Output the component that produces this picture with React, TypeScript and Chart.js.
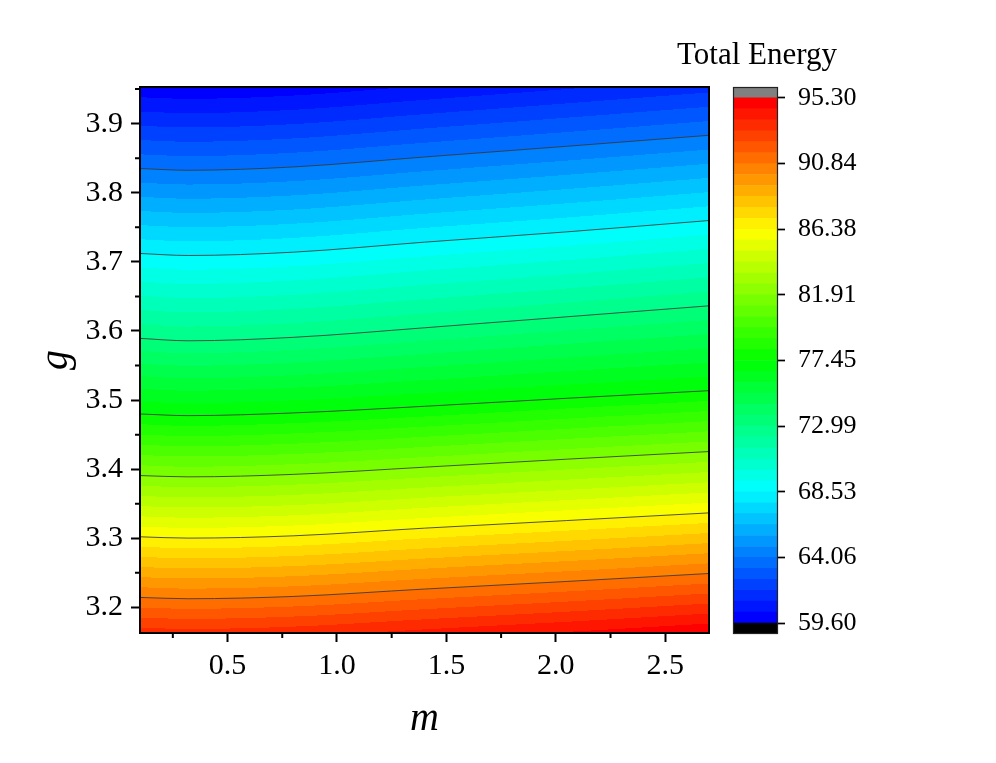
import React, { useEffect, useRef } from 'react';
import { Chart, registerables } from 'chart.js';

Chart.register(...registerables);

// ---- data ----
const mColumns = [0.1, 0.32, 0.8, 1.4, 2.05, 2.7];
const contourLevels = [64.06, 68.53, 72.99, 77.45, 81.91, 86.38, 90.84];
const gLevel6406 = [3.835, 3.8325, 3.8373, 3.8517, 3.8672, 3.8831];
const gLevel6853 = [3.7121, 3.7092, 3.714, 3.7285, 3.7434, 3.7598];
const gLevel7299 = [3.5893, 3.5858, 3.5908, 3.6046, 3.6205, 3.6364];
const gLevel7745 = [3.4799, 3.4775, 3.4814, 3.491, 3.5026, 3.5136];
const gLevel8191 = [3.3908, 3.3889, 3.3925, 3.4029, 3.4145, 3.4255];
const gLevel8638 = [3.3022, 3.3003, 3.3036, 3.3147, 3.3257, 3.3368];
const gLevel9084 = [3.2145, 3.2126, 3.2159, 3.2266, 3.2376, 3.2491];
const energyAtTopEdge = [59.81, 59.73, 59.9, 60.42, 60.98, 61.55];
const energyAtBottomEdge = [93.46, 93.37, 93.54, 94.08, 94.64, 95.26];

const mMin = 0.1;
const mMax = 2.7;
const gMin = 3.163;
const gMax = 3.953;
const mTicks = [0.5, 1.0, 1.5, 2.0, 2.5];
const mMinorTicks = [0.25, 0.75, 1.25, 1.75, 2.25];
const gTicks = [3.2, 3.3, 3.4, 3.5, 3.6, 3.7, 3.8, 3.9];
const gMinorTicks = [3.25, 3.35, 3.45, 3.55, 3.65, 3.75, 3.85, 3.95];
const colorbarTicks = [59.6, 64.06, 68.53, 72.99, 77.45, 81.91, 86.38, 90.84, 95.3];
const levelMin = 59.6;
const levelMax = 95.3;
const levelCount = 48;
const colorbarTitle = 'Total Energy';
const xTitle = 'm';
const yTitle = 'g';

const levelLines = [gLevel6406, gLevel6853, gLevel7299, gLevel7745, gLevel8191, gLevel8638, gLevel9084];

const FONT = "'Liberation Serif', 'Times New Roman', serif";
const step = (levelMax - levelMin) / levelCount;

const rainbowStops = [
  [0, 0, 255],
  [0, 255, 255],
  [0, 255, 0],
  [255, 255, 0],
  [255, 0, 0],
];
function rainbow(t: number): number[] {
  const tt = Math.max(0, Math.min(1, t));
  const s = tt * 4;
  const i = Math.min(3, Math.floor(s));
  const f = s - i;
  const a = rainbowStops[i];
  const b = rainbowStops[i + 1];
  return [0, 1, 2].map((c) => Math.round(a[c] + (b[c] - a[c]) * f));
}
const palette = Array.from({ length: levelCount }, (_, k) => rainbow(k / (levelCount - 1)));
const rgb = (c: number[]) => `rgb(${c[0]},${c[1]},${c[2]})`;

// monotone cubic (same scheme Chart.js uses for cubicInterpolationMode 'monotone')
function monotone(xs: number[], ys: number[]) {
  const n = xs.length;
  const d: number[] = [];
  const mk: number[] = new Array(n).fill(0);
  for (let i = 0; i < n - 1; i++) d[i] = (ys[i + 1] - ys[i]) / (xs[i + 1] - xs[i]);
  mk[0] = d[0];
  mk[n - 1] = d[n - 2];
  for (let i = 1; i < n - 1; i++) {
    mk[i] = Math.sign(d[i - 1]) !== Math.sign(d[i]) || d[i - 1] === 0 || d[i] === 0 ? 0 : (d[i - 1] + d[i]) / 2;
  }
  for (let i = 0; i < n - 1; i++) {
    if (d[i] === 0) {
      mk[i] = 0;
      mk[i + 1] = 0;
      continue;
    }
    const a = mk[i] / d[i];
    const b = mk[i + 1] / d[i];
    const s = a * a + b * b;
    if (s > 9) {
      const t = 3 / Math.sqrt(s);
      mk[i] = t * a * d[i];
      mk[i + 1] = t * b * d[i];
    }
  }
  return (x: number) => {
    let i = 0;
    while (i < n - 2 && x > xs[i + 1]) i++;
    const h = xs[i + 1] - xs[i];
    const t = (x - xs[i]) / h;
    const t2 = t * t;
    const t3 = t2 * t;
    return (
      (2 * t3 - 3 * t2 + 1) * ys[i] +
      (t3 - 2 * t2 + t) * h * mk[i] +
      (-2 * t3 + 3 * t2) * ys[i + 1] +
      (t3 - t2) * h * mk[i + 1]
    );
  };
}

const contourFillPlugin = {
  id: 'contourFill',
  beforeDatasetsDraw(chart: any) {
    const { ctx, chartArea: a, scales } = chart;
    const xs = scales.x;
    const ys = scales.y;
    const left = Math.round(a.left);
    const top = Math.round(a.top);
    const w = Math.round(a.right) - left;
    const h = Math.round(a.bottom) - top;
    const off = document.createElement('canvas');
    off.width = w;
    off.height = h;
    const octx = off.getContext('2d') as CanvasRenderingContext2D;
    const img = octx.createImageData(w, h);
    const lineFns = levelLines.map((s) => monotone(mColumns, s));
    const topFn = monotone(mColumns, energyAtTopEdge);
    const botFn = monotone(mColumns, energyAtBottomEdge);
    for (let px = 0; px < w; px++) {
      const m = xs.getValueForPixel(left + px + 0.5);
      const kg = [gMax, ...lineFns.map((f) => f(m)), gMin];
      const ke = [topFn(m), ...contourLevels, botFn(m)];
      for (let py = 0; py < h; py++) {
        const g = ys.getValueForPixel(top + py + 0.5);
        let j = 0;
        while (j < kg.length - 2 && g < kg[j + 1]) j++;
        const t = (kg[j] - g) / (kg[j] - kg[j + 1]);
        const e = ke[j] + t * (ke[j + 1] - ke[j]);
        let k = Math.floor((e - levelMin) / step);
        if (k < 0) k = 0;
        if (k > levelCount - 1) k = levelCount - 1;
        const c = palette[k];
        const idx = (py * w + px) * 4;
        img.data[idx] = c[0];
        img.data[idx + 1] = c[1];
        img.data[idx + 2] = c[2];
        img.data[idx + 3] = 255;
      }
    }
    octx.putImageData(img, 0, 0);
    ctx.drawImage(off, left, top);
  },
  afterDatasetsDraw(chart: any) {
    const { ctx, chartArea: a, scales } = chart;
    ctx.save();
    ctx.strokeStyle = '#000';
    ctx.lineWidth = 2;
    ctx.strokeRect(a.left, a.top, a.right - a.left, a.bottom - a.top);
    // minor ticks
    ctx.beginPath();
    gMinorTicks.forEach((v) => {
      const yp = scales.y.getPixelForValue(v);
      if (yp >= a.top - 0.5 && yp <= a.bottom + 0.5) {
        ctx.moveTo(a.left - 5, yp);
        ctx.lineTo(a.left, yp);
      }
    });
    mMinorTicks.forEach((v) => {
      const xp = scales.x.getPixelForValue(v);
      if (xp >= a.left - 0.5 && xp <= a.right + 0.5) {
        ctx.moveTo(xp, a.bottom);
        ctx.lineTo(xp, a.bottom + 5);
      }
    });
    ctx.stroke();
    ctx.restore();
  },
};

const colorbarFramePlugin = {
  id: 'colorbarFrame',
  afterDatasetsDraw(chart: any) {
    const { ctx, chartArea: a } = chart;
    ctx.save();
    ctx.strokeStyle = '#222';
    ctx.lineWidth = 1.2;
    ctx.strokeRect(a.left + 0.5, a.top + 0.5, a.right - a.left - 1, a.bottom - a.top - 1);
    ctx.restore();
  },
};

export default function App() {
  const mainRef = useRef<HTMLCanvasElement>(null);
  const barRef = useRef<HTMLCanvasElement>(null);

  useEffect(() => {
    const lineDatasets = levelLines.map((series, i) => ({
      label: String(contourLevels[i]),
      data: mColumns.map((m, j) => ({ x: m, y: series[j] })),
      showLine: true,
      borderColor: 'rgba(55,55,55,0.85)',
      borderWidth: 1,
      pointRadius: 0,
      cubicInterpolationMode: 'monotone' as const,
      fill: false,
    }));

    const main = new Chart(mainRef.current as HTMLCanvasElement, {
      type: 'scatter',
      data: { datasets: lineDatasets },
      options: {
        animation: false,
        responsive: false,
        devicePixelRatio: 1,
        layout: { padding: { left: 0, top: 87, right: 11, bottom: 0 } },
        plugins: { legend: { display: false }, tooltip: { enabled: false } },
        scales: {
          x: {
            type: 'linear',
            position: 'bottom',
            min: mMin,
            max: mMax,
            afterBuildTicks: (s: any) => {
              s.ticks = mTicks.map((v) => ({ value: v }));
            },
            afterFit: (s: any) => {
              s.height = 130;
            },
            ticks: {
              callback: (v: any) => Number(v).toFixed(1),
              font: { family: FONT, size: 30 },
              color: '#000',
              padding: 6,
              maxRotation: 0,
            },
            grid: { drawOnChartArea: false, drawTicks: true, tickLength: 9, tickWidth: 2, tickColor: '#000' },
            border: { display: false },
            title: {
              display: true,
              text: xTitle,
              font: { family: FONT, size: 40, style: 'italic' },
              color: '#000',
              padding: { top: 0, bottom: 20 },
            },
          },
          y: {
            type: 'linear',
            position: 'left',
            min: gMin,
            max: gMax,
            afterBuildTicks: (s: any) => {
              s.ticks = gTicks.map((v) => ({ value: v }));
            },
            afterFit: (s: any) => {
              s.width = 140;
            },
            ticks: {
              callback: (v: any) => Number(v).toFixed(1),
              font: { family: FONT, size: 30 },
              color: '#000',
              padding: 8,
            },
            grid: { drawOnChartArea: false, drawTicks: true, tickLength: 9, tickWidth: 2, tickColor: '#000' },
            border: { display: false },
            title: {
              display: true,
              text: yTitle,
              font: { family: FONT, size: 40, style: 'italic' },
              color: '#000',
              padding: { top: 32, bottom: 0 },
            },
          },
        },
      },
      plugins: [contourFillPlugin],
    } as any);

    const lowOver = levelMin - step;
    const highOver = levelMax + step;
    const bandDatasets: any[] = [
      { data: [[lowOver, levelMin]], backgroundColor: '#000000' },
      ...palette.map((c, k) => ({
        data: [[levelMin + k * step, levelMin + (k + 1) * step]],
        backgroundColor: rgb(c),
      })),
      { data: [[levelMax, highOver]], backgroundColor: '#808080' },
    ].map((d) => ({
      ...d,
      borderWidth: 0,
      barPercentage: 1,
      categoryPercentage: 1,
      grouped: false,
      yAxisID: 'y',
    }));

    const bar = new Chart(barRef.current as HTMLCanvasElement, {
      type: 'bar',
      data: { labels: [''], datasets: bandDatasets },
      options: {
        animation: false,
        responsive: false,
        devicePixelRatio: 1,
        layout: { padding: { left: 0, top: 0, right: 0, bottom: 129 } },
        plugins: {
          legend: { display: false },
          tooltip: { enabled: false },
          title: {
            display: true,
            text: colorbarTitle,
            font: { family: FONT, size: 31, weight: 'normal' },
            color: '#000',
            padding: { top: 37, bottom: 12.8 },
          },
        },
        scales: {
          x: {
            display: false,
          },
          yPad: {
            position: 'left',
            display: true,
            ticks: { display: false },
            grid: { display: false },
            border: { display: false },
            afterFit: (s: any) => {
              s.width = 82;
            },
          },
          y: {
            position: 'right',
            min: lowOver,
            max: highOver,
            afterBuildTicks: (s: any) => {
              s.ticks = colorbarTicks.map((v) => ({ value: v }));
            },
            afterFit: (s: any) => {
              s.width = 85;
            },
            ticks: {
              callback: (v: any) => Number(v).toFixed(2),
              font: { family: FONT, size: 26 },
              color: '#000',
              padding: 13,
            },
            grid: { drawOnChartArea: false, drawTicks: true, tickLength: 7, tickWidth: 1.7, tickColor: '#000' },
            border: { display: false },
          },
        },
      },
      plugins: [colorbarFramePlugin],
    } as any);

    return () => {
      main.destroy();
      bar.destroy();
    };
  }, []);

  return (
    <div style={{ position: 'absolute', left: 0, top: 0, width: 996, height: 763, background: '#fff' }}>
      <canvas ref={mainRef} width={720} height={763} style={{ position: 'absolute', left: 0, top: 0 }} />
      <canvas ref={barRef} width={212} height={763} style={{ position: 'absolute', left: 651, top: 0 }} />
    </div>
  );
}
